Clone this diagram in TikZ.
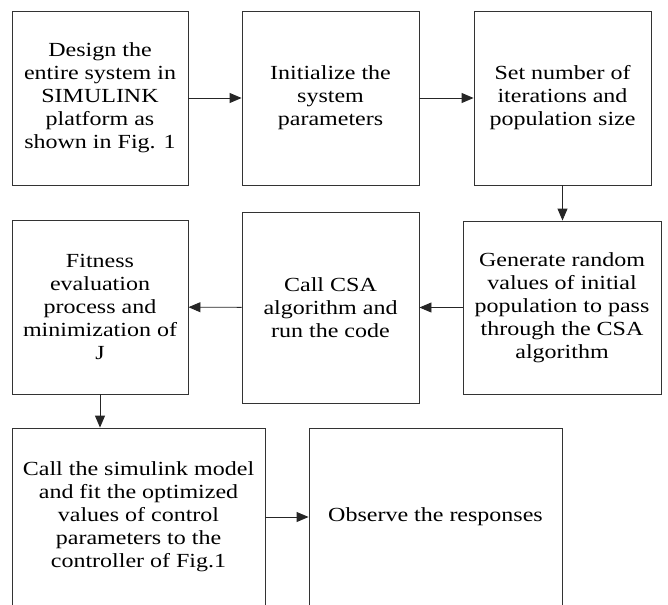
\documentclass[tikz,border=0pt]{standalone}
\usepackage{fontspec}
\setmainfont{Liberation Serif}[FakeStretch=1.2]
\usetikzlibrary{arrows.meta}
\begin{document}
\begin{tikzpicture}[x=1pt,y=-1pt,
  box/.style={draw=black!80, line width=0.9pt, rectangle, align=center, inner sep=0pt,
    font=\fontsize{20}{23}\selectfont},
  arr/.style={draw=black!85, line width=0.9pt, -{Triangle[length=12pt,width=10pt]}}]
\useasboundingbox (0,0) rectangle (668,604);
\clip (0,0) rectangle (668,604);
\node[box, minimum width=176pt, minimum height=174pt] (b1) at (100,98)
  {Design the\\entire system in\\SIMULINK\\platform as\\shown in Fig. 1};
\node[box, minimum width=177pt, minimum height=174pt] (b2) at (330.5,98)
  {Initialize the\\system\\parameters};
\node[box, minimum width=177pt, minimum height=174pt] (b3) at (562.5,98)
  {Set number of\\iterations and\\population size};
\node[box, minimum width=198pt, minimum height=173pt] (b6) at (562,307.5)
  {Generate random\\values of initial\\population to pass\\through the CSA\\algorithm};
\node[box, minimum width=177pt, minimum height=191pt] (b5) at (330.5,307.5)
  {Call CSA\\algorithm and\\run the code};
\node[box, minimum width=176pt, minimum height=174pt] (b4) at (100,307)
  {Fitness\\evaluation\\process and\\minimization of\\J};
\node[box, minimum width=253pt, minimum height=178pt] (b7) at (138.5,517)
  {Call the simulink model\\and fit the optimized\\values of control\\parameters to the\\controller of Fig.1};
\node[box, minimum width=253pt, minimum height=178pt] (b8) at (435.5,517)
  {Observe the responses};
\draw[arr] (b1) -- (b2);
\draw[arr] (b2) -- (b3);
\draw[arr] (b3.south) -- (b3.south |- b6.north);
\draw[arr] (b6) -- (b5);
\draw[arr] (b5) -- (b4);
\draw[arr] (b4.south) -- (b4.south |- b7.north);
\draw[arr] (b7) -- (b8);
\end{tikzpicture}
\end{document}
